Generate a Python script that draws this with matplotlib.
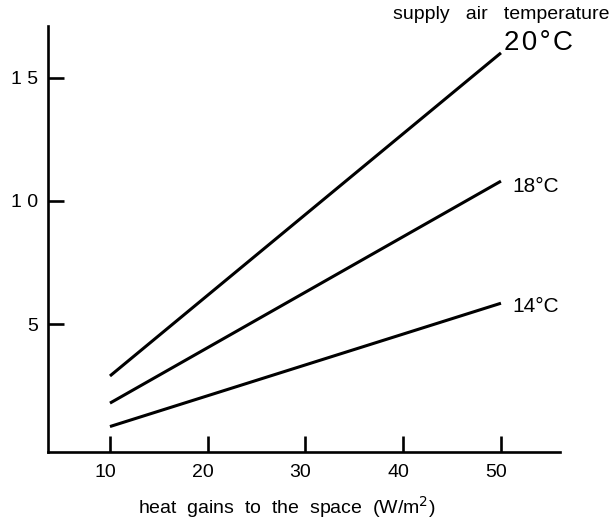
import matplotlib
matplotlib.use('Agg')
from matplotlib import pyplot as plt
from matplotlib.transforms import ScaledTranslation

plt.rcParams['font.family'] = ['Liberation Sans', 'DejaVu Sans']

heat_gain = [10, 50]
t20 = [2.9, 16.0]
t18 = [1.8, 10.8]
t14 = [0.85, 5.85]
line_labels = ['2\u200a0\u200a°\u200aC', '18°C', '14°C']

x_ticks = [10, 20, 30, 40, 50]
y_ticks = [5, 10, 15]
y_tick_labels = ['5', '1 0', '1 5']

fig = plt.figure(figsize=(6.13, 5.22), dpi=100)
ax = fig.add_axes([48 / 613, 1 - 451.7 / 522, 512 / 613, 425.7 / 522])

for ys in (t20, t18, t14):
    ax.plot(heat_gain, ys, color='black', linewidth=2.2, solid_capstyle='butt')

ax.set_xlim(3.66, 56.04)
ax.set_ylim(-0.17, 17.09)

for s in ['top', 'right']:
    ax.spines[s].set_visible(False)
for s in ['left', 'bottom']:
    ax.spines[s].set_linewidth(1.9)

ax.set_xticks(x_ticks)
ax.set_xticklabels([str(v) for v in x_ticks])
ax.set_yticks(y_ticks)
ax.set_yticklabels(y_tick_labels)
ax.tick_params(axis='both', direction='in', length=11.5, width=1.9, labelsize=14, colors='black')
ax.tick_params(axis='x', pad=9)
ax.tick_params(axis='y', pad=7)

# the tick numbers sit a little left of their ticks
shift = ScaledTranslation(-5 / 100, 0, fig.dpi_scale_trans)
for lab in ax.get_xticklabels():
    lab.set_transform(lab.get_transform() + shift)

fig.text(286.5 / 613, 1 - 507 / 522, 'heat  gains  to  the  space  (W/m$^2$)',
         fontsize=14, ha='center', va='center')

# labels at the line ends
ax.text(50.3, 16.4, line_labels[0], fontsize=20, va='center', ha='left', clip_on=False)
ax.text(51.2, 10.6, line_labels[1], fontsize=15, va='center', ha='left')
ax.text(51.2, 5.7, line_labels[2], fontsize=15, va='center', ha='left')
ax.text(50.0, 17.55, 'supply   air   temperature', fontsize=14, va='center', ha='center', clip_on=False)

fig.savefig('out.png', dpi=100)
